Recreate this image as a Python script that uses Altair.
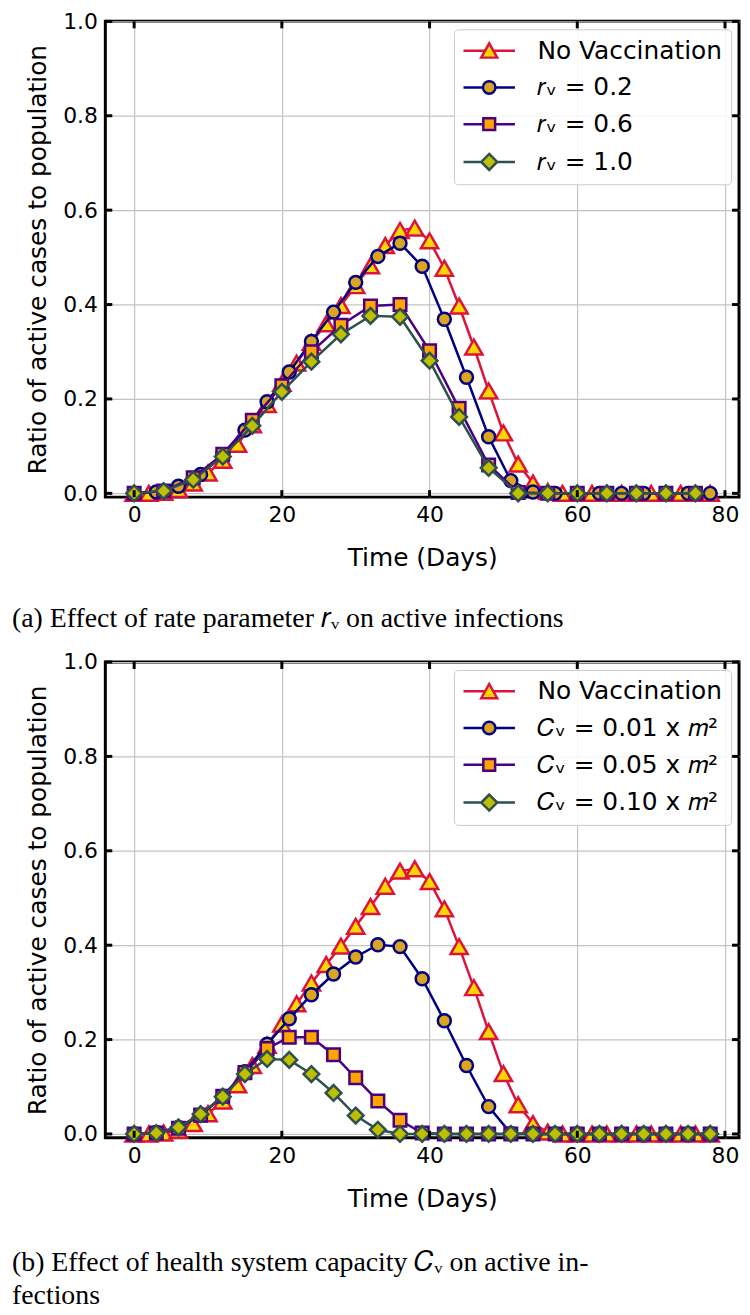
import altair as alt
import pandas as pd

# ---------------- data ----------------
days_every2 = list(range(0, 79, 2))
days_every3 = list(range(0, 79, 3))
days_every4 = list(range(0, 77, 4))

no_vacc = [0.0, 0.0, 0.002, 0.008, 0.022, 0.043, 0.070, 0.104, 0.145, 0.188,
           0.233, 0.276, 0.320, 0.359, 0.398, 0.440, 0.482, 0.525, 0.557, 0.562,
           0.535, 0.477, 0.397, 0.310, 0.217, 0.128, 0.062, 0.022, 0.004, 0.0,
           0.0, 0.0, 0.0, 0.0, 0.0, 0.0, 0.0, 0.0, 0.0, 0.0]

rv_02 = [0.0, 0.003, 0.015, 0.040, 0.082, 0.134, 0.194, 0.257, 0.322, 0.384,
         0.447, 0.502, 0.530, 0.481, 0.369, 0.246, 0.120, 0.027, 0.003, 0.0,
         0.0, 0.0, 0.0, 0.0, 0.0, 0.0, 0.0]
rv_06 = [0.0, 0.005, 0.033, 0.083, 0.155, 0.228, 0.300, 0.356, 0.397, 0.400,
         0.302, 0.180, 0.060, 0.002, 0.0, 0.0, 0.0, 0.0, 0.0, 0.0]
rv_10 = [0.0, 0.005, 0.029, 0.078, 0.143, 0.215, 0.279, 0.337, 0.376, 0.374,
         0.281, 0.162, 0.054, 0.0, 0.0, 0.0, 0.0, 0.0, 0.0, 0.0]

cv_001 = [0.0, 0.003, 0.014, 0.040, 0.080, 0.132, 0.190, 0.244, 0.295, 0.339,
          0.375, 0.401, 0.397, 0.329, 0.240, 0.145, 0.058, 0.001, 0.0, 0.0,
          0.0, 0.0, 0.0, 0.0, 0.0, 0.0, 0.0]
cv_005 = [0.0, 0.002, 0.012, 0.040, 0.080, 0.130, 0.181, 0.205, 0.205, 0.168,
          0.119, 0.070, 0.029, 0.002, 0.0, 0.0, 0.0, 0.0, 0.0, 0.0,
          0.0, 0.0, 0.0, 0.0, 0.0, 0.0, 0.0]
cv_010 = [0.0, 0.002, 0.014, 0.042, 0.079, 0.127, 0.159, 0.157, 0.127, 0.087,
          0.039, 0.009, 0.0, 0.0, 0.0, 0.0, 0.0, 0.0, 0.0, 0.0,
          0.0, 0.0, 0.0, 0.0, 0.0, 0.0, 0.0]

labels_a = ["No Vaccination", "𝑟ᵥ = 0.2", "𝑟ᵥ = 0.6", "𝑟ᵥ = 1.0"]
labels_b = ["No Vaccination", "𝐶ᵥ = 0.01 x 𝑚²", "𝐶ᵥ = 0.05 x 𝑚²", "𝐶ᵥ = 0.10 x 𝑚²"]

x_ticks = [0, 20, 40, 60, 80]
y_ticks = [0.0, 0.2, 0.4, 0.6, 0.8, 1.0]

caption_a = "(a) Effect of rate parameter 𝑟ᵥ on active infections"
caption_b = ["(b) Effect of health system capacity 𝐶ᵥ on active in-", "fections"]

# ---------------- styles ----------------
line_colors = ["#DC143C", "#000080", "#4B0082", "#2F4F4F"]
fill_colors = ["#FFD700", "#DAA520", "#FFA500", "#BFBF00"]
shapes = ["triangle-up", "circle", "square", "diamond"]
sizes = [300, 170, 160, 250]
legend_paths = [
    "M-3.7,0 L-0.55,0 M0.55,0 L3.7,0 M0,-1.05 L1.15,1.0 L-1.15,1.0 Z",
    "M-3.7,0 L-0.9,0 M0.9,0 L3.7,0 M-0.9,0 A0.9,0.9 0 1,0 0.9,0 A0.9,0.9 0 1,0 -0.9,0 Z",
    "M-3.7,0 L-0.85,0 M0.85,0 L3.7,0 M-0.85,-0.85 L0.85,-0.85 L0.85,0.85 L-0.85,0.85 Z",
    "M-3.7,0 L-1.15,0 M1.15,0 L3.7,0 M0,-1.15 L1.15,0 L0,1.15 L-1.15,0 Z",
]

W, H = 638, 479
SANS = "DejaVu Sans"
SERIF = "Liberation Serif"

x_scale = alt.Scale(domain=[-3.9, 81.9], nice=False, zero=False)
y_scale = alt.Scale(domain=[-0.008, 1.0], nice=False, zero=False)
axis_common = dict(grid=True, ticks=False, tickSize=0, domain=False, labelPadding=8,
                   labelFlush=False, labelFont=SANS, labelFontSize=22,
                   labelColor="black", titleFont=SANS, titleFontSize=25,
                   titleFontWeight="normal", titleColor="black",
                   gridColor="#c4c4c4", gridWidth=1.2)
x_axis = alt.Axis(values=x_ticks, title="Time (Days)", format="d",
                  titlePadding=20, **axis_common)
y_axis = alt.Axis(values=y_ticks, title="Ratio of active cases to population",
                  format=".1f", titlePadding=12, **axis_common)


def panel(series_labels, series_days, series_values, caption, cap_offset):
    rows = []
    for lab, days, vals in zip(series_labels, series_days, series_values):
        for d, v in zip(days, vals):
            rows.append({"day": d, "value": v, "series": lab})
    df = pd.DataFrame(rows)

    X = alt.X("day:Q", scale=x_scale, axis=x_axis)
    Y = alt.Y("value:Q", scale=y_scale, axis=y_axis)

    layers = []
    for i, lab in enumerate(series_labels):
        base = alt.Chart(df).transform_filter(alt.datum.series == lab)
        layers.append(base.mark_line(color=line_colors[i], strokeWidth=2.5)
                      .encode(x=X, y=Y))
        layers.append(base.mark_point(shape=shapes[i], size=sizes[i], filled=True,
                                      fill=fill_colors[i], stroke=line_colors[i],
                                      strokeWidth=2.5, opacity=1, fillOpacity=1,
                                      strokeOpacity=1)
                      .encode(x=X, y=Y))

    leg = alt.Legend(title=None, orient="top-right", offset=8, symbolOpacity=1,
                     symbolSize=196, symbolStrokeWidth=2.5, labelFont=SANS,
                     labelFontSize=25, labelColor="black", padding=9,
                     cornerRadius=4, strokeColor="#cccccc",
                     fillColor="rgba(255,255,255,0.85)", symbolOffset=14,
                     labelOffset=36, rowPadding=11, labelLimit=0)
    layers.append(
        alt.Chart(df).mark_point(filled=True, opacity=0).encode(
            x=X, y=Y,
            shape=alt.Shape("series:N", scale=alt.Scale(domain=series_labels, range=legend_paths), legend=leg),
            fill=alt.Fill("series:N", scale=alt.Scale(domain=series_labels, range=fill_colors), legend=leg),
            stroke=alt.Stroke("series:N", scale=alt.Scale(domain=series_labels, range=line_colors), legend=leg),
        )
    )

    # inward ticks on all four sides
    yt = pd.DataFrame({"value": y_ticks})
    xt = pd.DataFrame({"day": x_ticks})
    layers.append(alt.Chart(yt).mark_rule(color="black", strokeWidth=3)
                  .encode(y=Y, x=alt.value(0), x2=alt.value(7)))
    layers.append(alt.Chart(yt).mark_rule(color="black", strokeWidth=3)
                  .encode(y=Y, x=alt.value(W - 7), x2=alt.value(W)))
    layers.append(alt.Chart(xt).mark_rule(color="black", strokeWidth=3)
                  .encode(x=X, y=alt.value(H - 7), y2=alt.value(H)))
    layers.append(alt.Chart(xt).mark_rule(color="black", strokeWidth=3)
                  .encode(x=X, y=alt.value(0), y2=alt.value(7)))

    return alt.layer(*layers).properties(
        width=W, height=H,
        title=alt.TitleParams(text=caption, orient="bottom", anchor="start",
                              font=SERIF, fontSize=28, fontWeight="normal",
                              color="black", offset=cap_offset, dx=-14,
                              lineHeight=33),
    )


top = panel(labels_a, [days_every2, days_every3, days_every4, days_every4],
            [no_vacc, rv_02, rv_06, rv_10], caption_a, 35)
bottom = panel(labels_b, [days_every2, days_every3, days_every3, days_every3],
               [no_vacc, cv_001, cv_005, cv_010], caption_b, 38)

chart = alt.vconcat(top, bottom, spacing=14).resolve_scale(
    shape="independent", fill="independent", stroke="independent"
).resolve_legend(
    shape="independent", fill="independent", stroke="independent"
).properties(
    padding={"left": 2, "top": -4, "right": 0, "bottom": 0},
    background="white",
).configure_view(
    stroke="black", strokeWidth=3
)

chart.save("out.html", embed_options={"renderer": "svg", "actions": False})
